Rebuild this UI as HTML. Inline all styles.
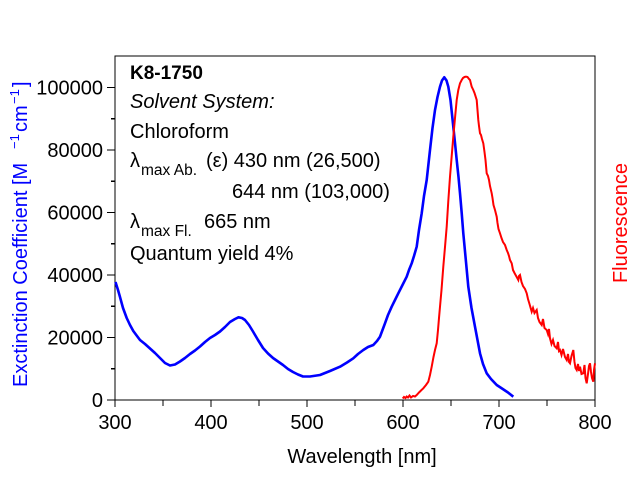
<!DOCTYPE html>
<html><head><meta charset="utf-8">
<style>
html,body{margin:0;padding:0;background:#fff;}
svg{display:block;}
text{font-family:"Liberation Sans",Arial,sans-serif;}
</style></head>
<body>
<svg width="640" height="480" viewBox="0 0 640 480" xmlns="http://www.w3.org/2000/svg">
<rect width="640" height="480" fill="#fff"/>
<g stroke="#000" stroke-width="1.2" fill="none" shape-rendering="crispEdges">
<rect x="115" y="56" width="480" height="344"/>
<path d="M107 400H115M107 337.5H115M107 275H115M107 212.5H115M107 150H115M107 87.5H115"/>
<path d="M111 368.75H115M111 306.25H115M111 243.75H115M111 181.25H115M111 118.75H115"/>
<path d="M115 400V407M211 400V407M307 400V407M403 400V407M499 400V407M595 400V407"/>
<path d="M163 400V406M259 400V406M355 400V406M451 400V406M547 400V406"/>
</g>
<g font-size="20" fill="#000" text-anchor="end">
<text x="103" y="407">0</text>
<text x="103" y="344.5">20000</text>
<text x="103" y="282">40000</text>
<text x="103" y="219.5">60000</text>
<text x="103" y="157">80000</text>
<text x="103" y="94.5">100000</text>
</g>
<g font-size="20" fill="#000" text-anchor="middle">
<text x="115" y="429">300</text>
<text x="211" y="429">400</text>
<text x="307" y="429">500</text>
<text x="403" y="429">600</text>
<text x="499" y="429">700</text>
<text x="595" y="429">800</text>
</g>
<text x="362" y="463" font-size="20" text-anchor="middle" fill="#000">Wavelength [nm]</text>
<g transform="translate(27,387) rotate(-90)" fill="#0000ff" font-size="20">
<text x="0" y="0">Exctinction Coefficient [M</text>
<text x="238" y="-8" font-size="13">−1</text>
<text x="255" y="0">cm</text>
<text x="283" y="-8" font-size="13">−1</text>
<text x="300" y="0">]</text>
</g>
<text transform="translate(627,223) rotate(-90)" text-anchor="middle" font-size="20" fill="#ff0000">Fluorescence</text>
<g font-size="20" fill="#000">
<text x="130" y="79" font-weight="bold" font-size="19">K8-1750</text>
<text x="130" y="108" font-style="italic">Solvent System:</text>
<text x="130" y="138">Chloroform</text>
<text x="130" y="167">λ</text>
<text x="141" y="175" font-size="15.5">max Ab.</text>
<text x="206" y="167">(ε) 430 nm (26,500)</text>
<text x="232" y="198">644 nm (103,000)</text>
<text x="130" y="228">λ</text>
<text x="141" y="236" font-size="15.5">max Fl.</text>
<text x="204" y="228">665 nm</text>
<text x="130" y="260">Quantum yield 4%</text>
</g>
<polyline fill="none" stroke="#0000ff" stroke-width="2.6" stroke-linejoin="round" points="
115.5,282 118,290 120,297 123,308 126.7,318 130,325 133.3,331 137,336 140,340 145,344 150,348.5 155,353 160,358 165,363 170,365.5 175,364.5 180,361.5 185,358 190,354 195,350.5 200,346.5 205,342 210,338 215,335 220,331.5 225,327 230,322 235,319 238.5,317.3 242,318 245,320 249,325 253,331.5 258,340 263,348 268,353.5 273,358 278,361.5 283,365 288,369 293,372 298,374.5 303,376.5 310,376.5 320,375 330,371 340,366.7 347,362.5 353.3,358.3 358,354 363.3,350 368,347 373.3,345 377,341 380,336.7 382.5,330 385,323.3 388,315 391.7,306.7 395,300 398.3,293.3 402.5,285 406.7,276.7 409,270 411.7,263.3 414,256 416.7,246.7 419,230 421.7,213.3 424,196 426.7,180 430,150 432.5,128 435,110 437.5,97 440,86.7 442,80.5 444.3,77.3 446.5,80.5 448.3,86.7 450.5,100 453.3,126.7 455,143 456.7,160 458.5,177 460,193.3 461.7,213 463.3,233.3 466,262 468.3,286.7 471.5,308 475,326.7 477.5,340 480,353.3 483,364 486.7,373.3 491,379 496.7,385 502,388.5 508,392.5 513.3,396.7"/>
<polyline fill="none" stroke="#ff0000" stroke-width="2" stroke-linejoin="miter" points="
402.7,398.5 404,397 405.5,398 406.7,396.5 408,397.5 409.5,395.5 411,397.5 413,396 415,396.5 416.7,395 419,392.5 421,390.5 423.3,388.3 426,385 428.3,381.7 430,375 431.7,366.7 433.5,357 435,350 436.7,343.3 438,330 439,318 440,306.7 441.5,290 443.3,266.7 445,247 446.7,226.7 448.3,201 450,176.7 451.7,156 453.3,136.7 455,118 456.7,100 458.3,90 460,83.3 461.7,80 463,78 464.5,77 466,76.7 467.5,77 469,79 470,80 471.7,86.7 473.3,90 474.5,93 476.7,100 477.5,110 478.3,120 479,126 480,133.3 481,135 482,139 483.3,143.3 484.5,152 485.5,160 486.7,173.3 488,176 489,180 490,186 491.7,193.3 492.5,198 493.5,205 495,210 496.7,216.7 497.5,223 498.5,229 500,233.3 501.5,238 503,242 505,245 506.7,250 508,253 509,256 510,260 511.7,263.3 513,270 514.5,273 516.7,277 518.3,280 519,276 520,275 521.5,282 523,286 525,289 526.7,293.3 528,299 529.5,304 531.7,311.7 533,308 534.5,313 536.7,310 538,318 539.5,322 541.7,325 543,319 544.5,328 546.7,330 548,334 549,329 550,338.3 551.5,344 553,340 554.5,346 556.7,348.3 558,342 559,351 560,350 561.5,355 563,349 565,357 566.7,360 568,354 569,362 570,363.3 571.5,356 573.3,350 574.5,362 575.5,368 576.7,370 578,364 579,371 580,366.7 581.5,374 583.3,373.3 584.5,365 585.5,378 586.7,383.3 588,374 589,366 590,363.3 591,372 592,378 593.3,381.7 594,370 595,363.3"/>
</svg>
</body></html>
